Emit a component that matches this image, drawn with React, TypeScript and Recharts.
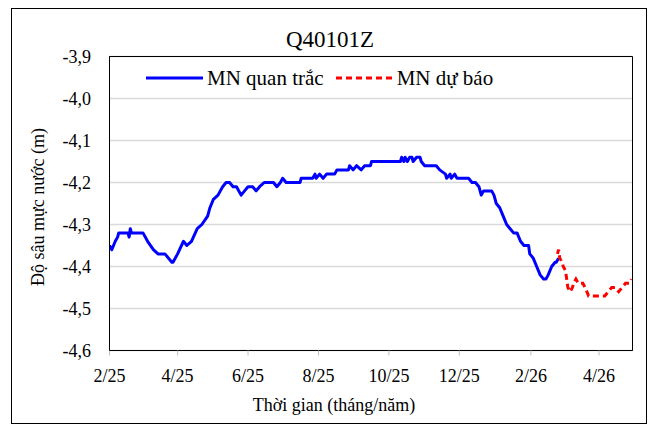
import React from 'react';
import {
  LineChart,
  Line,
  XAxis,
  YAxis,
  CartesianGrid,
  ReferenceArea,
  Legend,
  Label,
} from 'recharts';

// Days counted from 1 Feb 2025
const obsDays = [
  0, 2, 5, 7, 8, 12, 16, 17, 18, 19, 29, 33, 38, 42, 48, 54, 55, 59, 64, 67, 71, 76, 80, 85, 87, 90, 94, 96, 98,
  101, 104, 107, 110, 114, 117, 120, 124, 127, 130, 134, 142, 145, 148, 150, 153, 156, 165, 166, 176, 178, 179,
  182, 185, 188, 195, 197, 207, 208, 211, 214, 218, 221, 226, 227, 252, 253, 255, 256, 258, 260, 262, 263, 266,
  269, 270, 273, 283, 286, 291, 292, 295, 296, 299, 301, 311, 314, 317, 320, 322, 324, 331, 333, 335, 338, 341,
  344, 347, 350, 353, 356, 359, 363, 364, 367, 370, 373, 376, 378, 380, 383, 386, 387, 389,
];
const obsLevels = [
  -4.35, -4.36, -4.34, -4.33, -4.32, -4.32, -4.32, -4.33, -4.31, -4.32, -4.32, -4.34, -4.36, -4.37, -4.37, -4.39,
  -4.39, -4.37, -4.34, -4.35, -4.34, -4.31, -4.3, -4.28, -4.26, -4.24, -4.23, -4.22, -4.21,
  -4.2, -4.2, -4.21, -4.21, -4.23, -4.22, -4.21, -4.21, -4.22, -4.21, -4.2, -4.2, -4.21, -4.2, -4.19, -4.2, -4.2,
  -4.2, -4.19, -4.19, -4.18, -4.19,
  -4.18, -4.19, -4.18, -4.18, -4.17, -4.17, -4.16, -4.17, -4.16, -4.17, -4.16, -4.16, -4.15, -4.15, -4.14, -4.15,
  -4.14, -4.15, -4.14, -4.14, -4.15, -4.14,
  -4.14, -4.15, -4.16, -4.16, -4.17, -4.18, -4.19, -4.18, -4.19, -4.18, -4.19, -4.19, -4.2, -4.2, -4.21, -4.23,
  -4.22, -4.22, -4.23, -4.25, -4.26, -4.28,
  -4.3, -4.31, -4.32, -4.32, -4.34, -4.35, -4.35, -4.37, -4.38, -4.4, -4.42, -4.43, -4.43, -4.42, -4.4, -4.39,
  -4.39, -4.38,
];

const fcDays = [
  388, 389, 390, 392, 393, 395, 396, 397, 399, 401, 402, 404, 406, 408, 410, 412, 415, 418, 421, 424, 426, 429,
  432, 435, 438, 441, 444, 447, 450, 452,
];
const fcLevels = [
  -4.37, -4.36, -4.38, -4.39, -4.4, -4.41, -4.43, -4.45, -4.46, -4.45, -4.44, -4.43, -4.44, -4.44, -4.44, -4.45,
  -4.47, -4.47, -4.47, -4.47, -4.47, -4.47, -4.46, -4.45, -4.45, -4.46, -4.45, -4.44, -4.44, -4.43,
];

const xTickDays = [0, 59, 120, 181, 242, 303, 365, 424];
const xTickLabels = ['2/25', '4/25', '6/25', '8/25', '10/25', '12/25', '2/26', '4/26'];
const yTicks = [-4.6, -4.5, -4.4, -4.3, -4.2, -4.1, -4.0, -3.9];

const seriesObs = { name: 'MN quan trắc', color: '#0000ff', dash: undefined as string | undefined };
const seriesFc = { name: 'MN dự báo', color: '#ff0000', dash: '6 4' };

const obsData = obsDays.map((d, i) => ({ day: d, level: obsLevels[i] }));
const fcData = fcDays.map((d, i) => ({ day: d, level: fcLevels[i] }));

const FONT = "'Liberation Serif', 'Times New Roman', Times, 'DejaVu Serif', serif";

const XTick = (props: any) => {
  const { x, y, payload } = props;
  const idx = xTickDays.indexOf(payload.value);
  return (
    <text x={x} y={y + 24} textAnchor="middle" style={{ fontFamily: FONT, fontSize: 18 }} fill="#000">
      {idx >= 0 ? xTickLabels[idx] : ''}
    </text>
  );
};

const YTick = (props: any) => {
  const { y, payload } = props;
  const label = Number(payload.value).toFixed(1).replace('.', ',');
  return (
    <text x={91} y={y + 6} textAnchor="end" style={{ fontFamily: FONT, fontSize: 18 }} fill="#000">
      {label}
    </text>
  );
};

const LegendContent = () => {
  const items = [seriesObs, seriesFc];
  return (
    <div style={{ display: 'flex', alignItems: 'center', fontFamily: FONT, fontSize: 21, lineHeight: '24px', whiteSpace: 'nowrap', color: '#000' }}>
      {items.map((s, i) => (
        <div key={i} style={{ display: 'flex', alignItems: 'center', marginLeft: i === 0 ? 0 : 12 }}>
          <svg width={57} height={8}>
            <line x1={0} y1={4} x2={57} y2={4} stroke={s.color} strokeWidth={3} strokeDasharray={s.dash} />
          </svg>
          <span style={{ marginLeft: 4 }}>{s.name}</span>
        </div>
      ))}
    </div>
  );
};

export default function App() {
  return (
    <div style={{ position: 'absolute', left: 0, top: 0, width: 656, height: 430, background: '#fff', fontFamily: FONT }}>
      <div
        style={{
          position: 'absolute',
          left: 11,
          top: 8,
          width: 636,
          height: 416,
          boxSizing: 'border-box',
          border: '1px solid #000',
        }}
      />
      <div
        style={{
          position: 'absolute',
          left: 0,
          top: 27,
          width: 660,
          textAlign: 'center',
          fontFamily: FONT,
          fontSize: 23,
          lineHeight: '26px',
          color: '#000',
        }}
      >
        Q40101Z
      </div>
      <div style={{ position: 'absolute', left: 0, top: 0, fontFamily: FONT }}>
        <LineChart width={656} height={430} margin={{ top: 56.5, right: 23.5, bottom: 49.5, left: 50 }} style={{ fontFamily: FONT }}>
          <CartesianGrid vertical={false} stroke="#d9d9d9" strokeWidth={1.5} />
          <XAxis
            type="number"
            dataKey="day"
            domain={[0, 453]}
            ticks={xTickDays}
            interval={0}
            height={30}
            axisLine={{ stroke: '#000' }}
            tickLine={{ stroke: '#bfbfbf' }}
            tickSize={5}
            tick={<XTick />}
            allowDataOverflow
          >
            <Label
              content={() => (
                <text x={334} y={411} textAnchor="middle" style={{ fontFamily: FONT, fontSize: 18 }} fill="#000">
                  Thời gian (tháng/năm)
                </text>
              )}
            />
          </XAxis>
          <YAxis
            type="number"
            domain={[-4.6, -3.9]}
            ticks={yTicks}
            interval={0}
            width={59.5}
            axisLine={{ stroke: '#000' }}
            tickLine={false}
            tick={<YTick />}
            allowDataOverflow
          >
            <Label
              content={() => (
                <text
                  x={38}
                  y={207}
                  transform="rotate(-90, 38, 207)"
                  textAnchor="middle"
                  dominantBaseline="central"
                  style={{ fontFamily: FONT, fontSize: 18 }}
                  fill="#000"
                >
                  Độ sâu mực nước (m)
                </text>
              )}
            />
          </YAxis>
          <ReferenceArea x1={0} x2={453} y1={-4.6} y2={-3.9} fill="none" fillOpacity={0} stroke="#000" strokeWidth={1} />
          <Legend
            layout="horizontal"
            verticalAlign="middle"
            align="center"
            wrapperStyle={{ top: 66, left: 146, width: 'auto' }}
            content={<LegendContent />}
          />
          <Line
            data={obsData}
            dataKey="level"
            name={seriesObs.name}
            type="linear"
            stroke={seriesObs.color}
            strokeWidth={3}
            dot={false}
            activeDot={false}
            isAnimationActive={false}
            strokeLinejoin="round"
          />
          <Line
            data={fcData}
            dataKey="level"
            name={seriesFc.name}
            type="linear"
            stroke={seriesFc.color}
            strokeWidth={3}
            strokeDasharray={seriesFc.dash}
            dot={false}
            activeDot={false}
            isAnimationActive={false}
          />
        </LineChart>
      </div>
    </div>
  );
}
